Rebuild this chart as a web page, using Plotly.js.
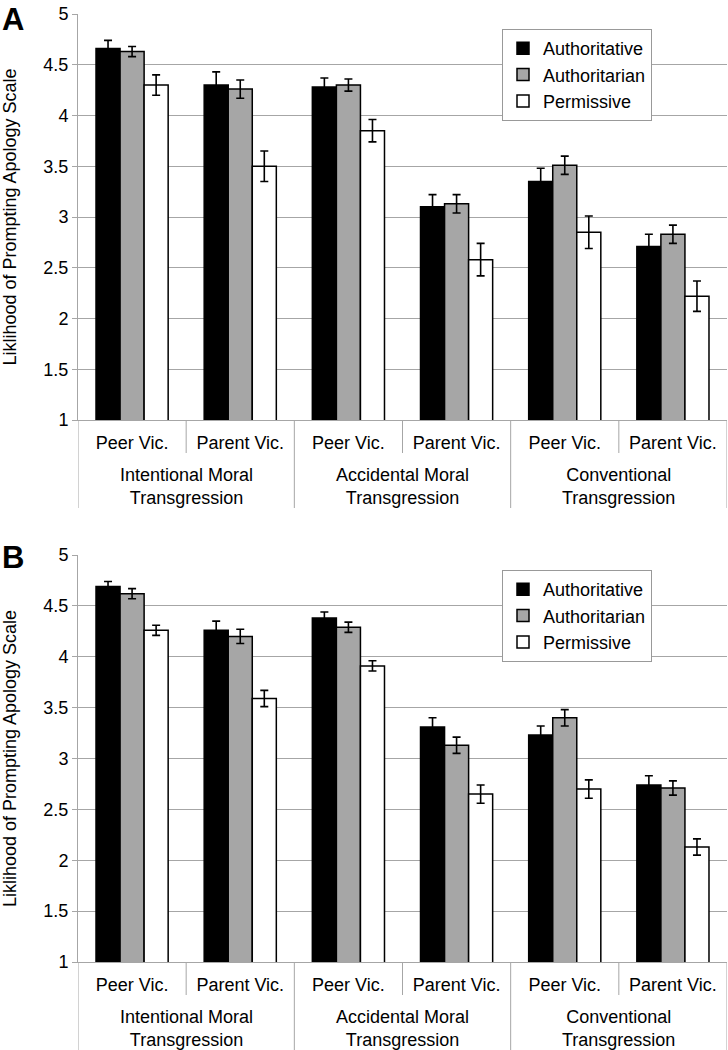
<!DOCTYPE html>
<html>
<head>
<meta charset="utf-8">
<script src="https://cdn.plot.ly/plotly-3.0.1.min.js"></script>
<style>html,body{margin:0;padding:0;background:#fff;}#chart{width:728px;height:1050px;}</style>
</head>
<body>
<div id="chart"></div>
<script>
// ---- data ----
var groupNames = ['Intentional Moral<br>Transgression', 'Accidental Moral<br>Transgression', 'Conventional<br>Transgression'];
var groupOf = [0, 0, 1, 1, 2, 2];
var victims = ['Peer Vic.', 'Parent Vic.', 'Peer Vic.', 'Parent Vic.', 'Peer Vic.', 'Parent Vic.'];
var seriesNames = ['Authoritative', 'Authoritarian', 'Permissive'];
var yTickVals = [1, 1.5, 2, 2.5, 3, 3.5, 4, 4.5, 5];
var yTickText = ['1', '1.5', '2', '2.5', '3', '3.5', '4', '4.5', '5'];
var yTitle = 'Liklihood of Prompting Apology Scale';

var authoritativeA    = [4.66, 4.30, 4.28, 3.10, 3.35, 2.71];
var authoritativeAErr = [0.08, 0.13, 0.09, 0.12, 0.13, 0.12];
var authoritarianA    = [4.63, 4.26, 4.30, 3.13, 3.51, 2.83];
var authoritarianAErr = [0.05, 0.09, 0.06, 0.09, 0.09, 0.09];
var permissiveA       = [4.30, 3.50, 3.85, 2.58, 2.85, 2.22];
var permissiveAErr    = [0.10, 0.15, 0.11, 0.16, 0.16, 0.15];

var authoritativeB    = [4.69, 4.26, 4.38, 3.31, 3.23, 2.74];
var authoritativeBErr = [0.05, 0.09, 0.06, 0.09, 0.09, 0.09];
var authoritarianB    = [4.62, 4.20, 4.29, 3.13, 3.40, 2.71];
var authoritarianBErr = [0.05, 0.07, 0.05, 0.08, 0.08, 0.07];
var permissiveB       = [4.26, 3.59, 3.91, 2.65, 2.70, 2.13];
var permissiveBErr    = [0.05, 0.08, 0.05, 0.09, 0.09, 0.08];

// ---- styles ----
var FONT = 'Liberation Sans, Arial, sans-serif';
var fills = ['#000000', '#a6a6a6', '#ffffff'];
var GRID = '#a6a6a6';
var xIdx = victims.map(function (v, i) { return i; });

function mkTrace(name, idx, vals, errs, xa, ya, leg) {
  return {
    type: 'bar', name: name,
    x: xIdx, y: vals,
    xaxis: xa, yaxis: ya, legend: leg, showlegend: true,
    marker: {color: fills[idx], line: {color: '#000', width: 1.5}},
    error_y: {type: 'data', array: errs, visible: true, color: '#000', thickness: 1.6, width: 4}
  };
}

var data = [
  mkTrace(seriesNames[0], 0, authoritativeA, authoritativeAErr, 'x', 'y', 'legend'),
  mkTrace(seriesNames[1], 1, authoritarianA, authoritarianAErr, 'x', 'y', 'legend'),
  mkTrace(seriesNames[2], 2, permissiveA, permissiveAErr, 'x', 'y', 'legend'),
  mkTrace(seriesNames[0], 0, authoritativeB, authoritativeBErr, 'x2', 'y2', 'legend2'),
  mkTrace(seriesNames[1], 1, authoritarianB, authoritarianBErr, 'x2', 'y2', 'legend2'),
  mkTrace(seriesNames[2], 2, permissiveB, permissiveBErr, 'x2', 'y2', 'legend2')
];

var H = 1050, W = 728;
var xDom = [78 / W, 727 / W];
var axisBottomA = 420, axisBottomB = 962;
var yDomA = [1 - axisBottomA / H, 1 - 14 / H];
var yDomB = [1 - axisBottomB / H, 1 - 555 / H];

function xAxis(anchor) {
  return {
    domain: xDom, anchor: anchor, range: [-0.5, victims.length - 0.5],
    tickvals: xIdx, ticktext: victims, ticklabelstandoff: 6,
    showline: true, linecolor: GRID, linewidth: 1,
    showgrid: false, zeroline: false, ticks: '',
    tickfont: {family: FONT, size: 18, color: '#000'}
  };
}
function yAxis(anchor, dom) {
  return {
    domain: dom, anchor: anchor, range: [1, 5],
    tickvals: yTickVals, ticktext: yTickText,
    showline: true, linecolor: GRID, linewidth: 1,
    ticks: 'outside', ticklen: 5, tickcolor: GRID,
    showgrid: true, gridcolor: GRID, gridwidth: 1, zeroline: false,
    tickfont: {family: FONT, size: 18, color: '#000'},
    title: {text: yTitle, font: {family: FONT, size: 18, color: '#000'}, standoff: 22}
  };
}

var shapes = [];
var annotations = [];
[['x', axisBottomA], ['x2', axisBottomB]].forEach(function (ax) {
  var base = ax[1];
  // boundaries between categories (short) and between groups (long), plus both ends
  for (var b = -1; b < victims.length; b++) {
    var isGroupEdge = (b < 0 || b === victims.length - 1 || groupOf[b] !== groupOf[b + 1]);
    var len = isGroupEdge ? 88 : 33;
    shapes.push({type: 'line', xref: ax[0], yref: 'paper',
      x0: b + 0.5, x1: b + 0.5, y0: 1 - base / H, y1: 1 - (base + len) / H,
      line: {color: GRID, width: 1}});
  }
  groupNames.forEach(function (g, gi) {
    var members = xIdx.filter(function (i) { return groupOf[i] === gi; });
    var center = members.reduce(function (s, v) { return s + v; }, 0) / members.length;
    annotations.push({text: g, xref: ax[0], yref: 'paper', x: center, y: 1 - (base + 66.5) / H,
      xanchor: 'center', yanchor: 'middle', showarrow: false, align: 'center',
      font: {family: FONT, size: 18, color: '#000'}});
  });
});

annotations.push({text: '<b>A</b>', xref: 'paper', yref: 'paper', x: 0, y: 1, xanchor: 'left', yanchor: 'top',
  showarrow: false, font: {family: FONT, size: 31, color: '#000'}});
annotations.push({text: '<b>B</b>', xref: 'paper', yref: 'paper', x: 0, y: 1 - 538 / H, xanchor: 'left', yanchor: 'top',
  showarrow: false, font: {family: FONT, size: 31, color: '#000'}});

function legendDef(yTop) {
  return {
    x: 502 / W, xanchor: 'left', y: yTop, yanchor: 'top',
    bgcolor: '#fff', bordercolor: '#999', borderwidth: 1,
    font: {family: FONT, size: 18, color: '#000'},
    traceorder: 'normal', itemwidth: 30
  };
}

var layout = {
  width: W, height: H,
  margin: {l: 0, r: 0, t: 0, b: 0},
  paper_bgcolor: '#fff', plot_bgcolor: '#fff',
  barmode: 'group', bargap: 0.333, bargroupgap: 0,
  xaxis: xAxis('y'), yaxis: yAxis('x', yDomA),
  xaxis2: xAxis('y2'), yaxis2: yAxis('x2', yDomB),
  legend: legendDef(1 - 29 / H),
  legend2: legendDef(1 - 570 / H),
  shapes: shapes,
  annotations: annotations
};

Plotly.newPlot('chart', data, layout, {displayModeBar: false, staticPlot: true});
</script>
</body>
</html>
